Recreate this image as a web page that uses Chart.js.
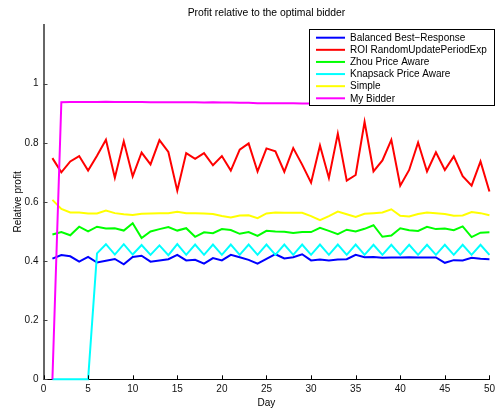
<!DOCTYPE html>
<html>
<head>
<meta charset="utf-8">
<script src="https://cdn.jsdelivr.net/npm/chart.js@4/dist/chart.umd.min.js"></script>
<style>
  html, body { margin: 0; padding: 0; background: #fff; }
  #wrap { width: 499px; height: 410px; }
</style>
</head>
<body>
<div id="wrap"><canvas id="c" width="499" height="410"></canvas></div>
<script>
const chartTitle = 'Profit relative to the optimal bidder';
const xTitle = 'Day';
const yTitle = 'Relative profit';

const days = [1,2,3,4,5,6,7,8,9,10,11,12,13,14,15,16,17,18,19,20,21,22,23,24,25,
              26,27,28,29,30,31,32,33,34,35,36,37,38,39,40,41,42,43,44,45,46,47,48,49,50];

const seriesNames = ['Balanced Best\u2212Response', 'ROI RandomUpdatePeriodExp', 'Zhou Price Aware',
                     'Knapsack Price Aware', 'Simple', 'My Bidder'];
const seriesColors = ['#0000ff', '#ff0000', '#00ff00', '#00ffff', '#ffff00', '#ff00ff'];

const balanced = [0.408,0.420,0.416,0.398,0.414,0.395,0.401,0.407,0.389,0.414,0.418,0.398,0.402,0.406,0.421,0.402,0.404,0.391,0.410,0.402,
                  0.421,0.413,0.404,0.391,0.407,0.423,0.409,0.413,0.423,0.402,0.405,0.402,0.405,0.406,0.421,0.413,0.414,0.411,0.412,0.412,
                  0.413,0.412,0.412,0.412,0.394,0.403,0.402,0.411,0.408,0.406];
const roi = [0.748,0.700,0.737,0.755,0.706,0.756,0.810,0.682,0.805,0.686,0.767,0.727,0.809,0.769,0.638,0.765,0.746,0.765,0.724,0.755,
             0.706,0.777,0.798,0.703,0.781,0.771,0.702,0.782,0.726,0.665,0.791,0.681,0.831,0.672,0.691,0.871,0.703,0.740,0.810,0.655,
             0.708,0.801,0.703,0.768,0.708,0.754,0.687,0.655,0.737,0.635];
const zhou = [0.490,0.498,0.487,0.516,0.500,0.516,0.510,0.511,0.503,0.528,0.478,0.500,0.508,0.515,0.503,0.511,0.482,0.497,0.494,0.508,
              0.505,0.492,0.498,0.485,0.502,0.500,0.499,0.495,0.498,0.498,0.512,0.502,0.491,0.506,0.500,0.509,0.521,0.482,0.486,0.511,
              0.504,0.502,0.516,0.508,0.510,0.504,0.517,0.481,0.496,0.497];
const knapsack = [0,0,0,0,0,0.426,0.457,0.422,0.457,0.422,0.454,0.421,0.453,0.420,0.457,0.421,0.456,0.421,0.456,0.421,
                  0.456,0.421,0.456,0.421,0.456,0.421,0.456,0.421,0.456,0.421,0.456,0.421,0.456,0.421,0.456,0.421,0.455,0.421,0.455,0.421,
                  0.455,0.421,0.455,0.421,0.455,0.421,0.455,0.421,0.455,0.421];
const simple = [0.607,0.576,0.564,0.564,0.561,0.561,0.571,0.562,0.558,0.556,0.560,0.561,0.562,0.562,0.567,0.562,0.562,0.561,0.559,0.552,
                0.547,0.554,0.555,0.545,0.561,0.564,0.563,0.563,0.563,0.552,0.538,0.552,0.567,0.558,0.549,0.560,0.562,0.564,0.575,0.553,
                0.551,0.559,0.564,0.562,0.559,0.553,0.554,0.566,0.562,0.555];
const myBidder = [0,0.937,0.938,0.938,0.938,0.938,0.939,0.938,0.938,0.938,0.938,0.937,0.937,0.937,0.937,0.937,0.937,0.936,0.937,0.936,
                  0.936,0.935,0.935,0.934,0.934,0.934,0.934,0.934,0.933,0.933,0.933,0.933,0.933,0.933,0.933,0.933,0.933,0.933,0.933,0.933,
                  0.933,0.933,0.933,0.933,0.933,0.933,0.933,0.933,0.932,0.932];

const xTicks = [0,5,10,15,20,25,30,35,40,45,50];
const yTicks = [0,0.2,0.4,0.6,0.8,1];

const allSeries = [balanced, roi, zhou, knapsack, simple, myBidder];
const FONT = '"Liberation Sans", Arial, Helvetica, sans-serif';

const datasets = allSeries.map((vals, i) => ({
  label: seriesNames[i],
  data: days.map((d, k) => ({ x: d, y: vals[k] })),
  borderColor: seriesColors[i],
  backgroundColor: seriesColors[i],
  borderWidth: 2,
  pointRadius: 0,
  tension: 0,
  fill: false,
  clip: 4,
  order: allSeries.length - 1 - i
}));

const overlay = {
  id: 'overlay',
  afterDatasetsDraw(chart) {
    const { ctx, chartArea: a, scales } = chart;
    const xs = scales.x, ys = scales.y;
    ctx.save();
    // inward tick marks
    ctx.lineWidth = 1;
    ctx.strokeStyle = '#000';
    xTicks.forEach(v => {
      const px = Math.round(xs.getPixelForValue(v)) + 0.5;
      ctx.beginPath(); ctx.moveTo(px, a.bottom); ctx.lineTo(px, a.bottom - 4); ctx.stroke();
    });
    ctx.strokeStyle = '#444';
    yTicks.forEach(v => {
      const py = Math.round(ys.getPixelForValue(v)) + 0.5;
      ctx.beginPath(); ctx.moveTo(a.left, py); ctx.lineTo(a.left + 4, py); ctx.stroke();
    });

    // legend box
    const lx = 309.5, ly = 29.5, lw = 185, lh = 76;
    ctx.fillStyle = '#fff';
    ctx.fillRect(lx, ly, lw, lh);
    ctx.strokeStyle = '#000';
    ctx.lineWidth = 1;
    ctx.strokeRect(lx, ly, lw, lh);
    ctx.font = '10px ' + FONT;
    ctx.textBaseline = 'middle';
    ctx.textAlign = 'left';
    chart.data.datasets.forEach((ds, i) => {
      const ry = 37.7 + i * 12.12;
      ctx.strokeStyle = ds.borderColor;
      ctx.lineWidth = 2;
      ctx.beginPath(); ctx.moveTo(316, ry); ctx.lineTo(345, ry); ctx.stroke();
      ctx.fillStyle = '#000';
      ctx.fillText(ds.label, 350, ry + 0.5);
    });

    // titles
    const cx = (a.left + a.right) / 2;
    ctx.fillStyle = '#000';
    ctx.textAlign = 'center';
    ctx.textBaseline = 'alphabetic';
    ctx.font = '10.4px ' + FONT;
    ctx.fillText(chartTitle, cx, 15.5);
    ctx.font = '10px ' + FONT;
    ctx.fillText(xTitle, cx, 405.5);
    ctx.save();
    ctx.translate(20.5, (a.top + a.bottom) / 2);
    ctx.rotate(-Math.PI / 2);
    ctx.fillText(yTitle, 0, 0);
    ctx.restore();
    ctx.restore();
  }
};

new Chart(document.getElementById('c'), {
  type: 'line',
  data: { datasets },
  options: {
    responsive: false,
    animation: false,
    devicePixelRatio: 1,
    layout: { padding: { left: 0, right: 4.5, top: 24.5, bottom: 0 } },
    plugins: { legend: { display: false }, title: { display: false }, tooltip: { enabled: false } },
    scales: {
      x: {
        type: 'linear', min: 0, max: 50,
        afterBuildTicks(s) { s.ticks = xTicks.map(v => ({ value: v })); },
        ticks: { padding: 4, maxRotation: 0, autoSkip: false, color: '#111', font: { family: FONT, size: 10 },
                 callback: v => String(v) },
        grid: { display: true, drawOnChartArea: false, drawTicks: false },
        border: { display: true, color: '#000', width: 1 },
        afterFit(s) { s.height = 410 - 379.3; }
      },
      y: {
        type: 'linear', min: 0, max: 1.2,
        afterBuildTicks(s) { s.ticks = yTicks.map(v => ({ value: v })); },
        ticks: { padding: 5, color: '#111', font: { family: FONT, size: 10 },
                 callback: v => String(Math.round(v * 10) / 10) },
        grid: { display: true, drawOnChartArea: false, drawTicks: false },
        border: { display: true, color: '#666', width: 2 },
        afterFit(s) { s.width = 43.5; }
      }
    }
  },
  plugins: [overlay]
});
</script>
</body>
</html>
